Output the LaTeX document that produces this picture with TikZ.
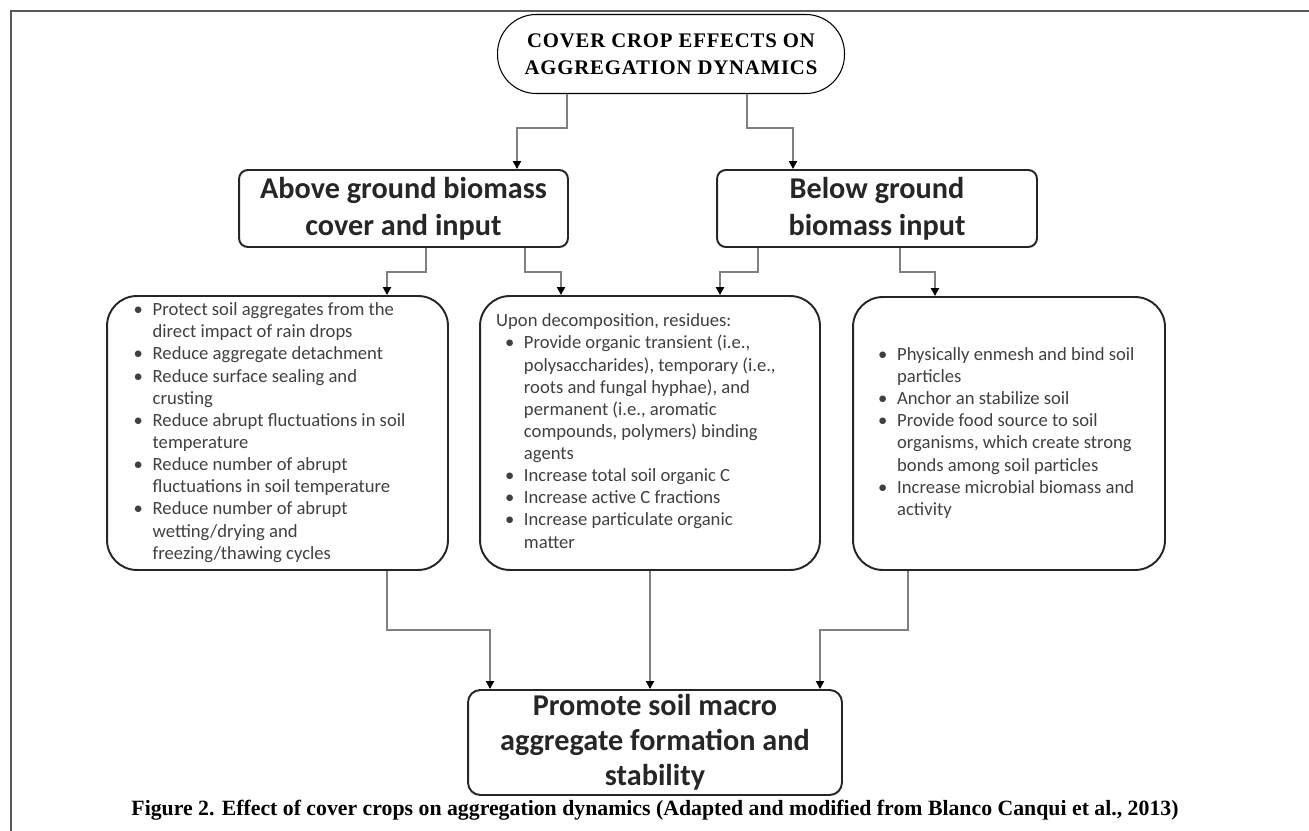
\documentclass[tikz,border=0pt]{standalone}
\usepackage{fontspec}
\setmainfont{Liberation Serif}
\newfontfamily\boxfont{Carlito}
\newfontfamily\titlefont[LetterSpace=4]{Liberation Serif}
\usepackage{array}
\usetikzlibrary{arrows.meta}
\definecolor{linkgray}{HTML}{808080}
\definecolor{textgray}{HTML}{404040}
\tikzset{heading/.style={draw=black!85, line width=1.1pt, rounded corners=5pt,
           align=center, inner sep=0pt, text=black!85,
           font=\boxfont\bfseries\fontsize{17.2}{21}\selectfont},
         bulletbox/.style={draw=black!85, line width=1.1pt, rounded corners=17pt,
           inner sep=0pt, text=textgray,
           font=\boxfont\fontsize{10.6}{12.6}\selectfont},
         link/.style={draw=linkgray, line width=1.3pt,
           -{Triangle[length=4.5pt,width=4.5pt,color=black]}}}
\newcommand{\bl}{\textbullet}

\begin{document}
\begin{tikzpicture}[x=0.02cm,y=-0.02cm]
\useasboundingbox (0,0) rectangle (1309,831);
% frame
\draw[black!65, line width=1.2pt] (11,831) -- (11,11) -- (1309,11);

% title
\node[draw, line width=0.6pt, rounded corners=22pt, minimum width=6.94cm,
      minimum height=1.58cm, align=center,
      font=\titlefont\bfseries\fontsize{11.8}{15.5}\selectfont] (title) at (671,54)
  {COVER CROP EFFECTS ON\\AGGREGATION DYNAMICS};

% biomass boxes
\node[heading, minimum width=6.58cm, minimum height=1.54cm] (above) at (403.5,208.5)
  {Above ground biomass\\cover and input};
\node[heading, minimum width=6.4cm, minimum height=1.54cm] (below) at (877,208.5)
  {Below ground\\biomass input};

% effect boxes
\node[bulletbox, minimum width=6.82cm, minimum height=5.48cm] (protect) at (277.5,433)
  {\begin{tabular}{@{}p{10.8pt}@{}l@{}}
   \bl & Protect soil aggregates from the\\
       & direct impact of rain drops\\
   \bl & Reduce aggregate detachment\\
   \bl & Reduce surface sealing and\\
       & crusting\\
   \bl & Reduce abrupt fluctuations in soil\\
       & temperature\\
   \bl & Reduce number of abrupt\\
       & fluctuations in soil temperature\\
   \bl & Reduce number of abrupt\\
       & wetting/drying and\\
       & freezing/thawing cycles
   \end{tabular}\hspace*{9pt}};
\node[bulletbox, minimum width=6.8cm, minimum height=5.48cm] (decomp) at (650,433)
  {\begin{tabular}{@{}p{10.8pt}@{}l@{}}
   \multicolumn{2}{@{\hspace{-5pt}}l@{}}{Upon decomposition, residues:}\\
   \bl & Provide organic transient (i.e.,\\
       & polysaccharides), temporary (i.e.,\\
       & roots and fungal hyphae), and\\
       & permanent (i.e., aromatic\\
       & compounds, polymers) binding\\
       & agents\\
   \bl & Increase total soil organic C\\
   \bl & Increase active C fractions\\
   \bl & Increase particulate organic\\
       & matter
   \end{tabular}\hspace*{11pt}};
\node[bulletbox, minimum width=6.24cm, minimum height=5.46cm] (roots) at (1009,433.5)
  {\begin{tabular}{@{}p{10.8pt}@{}l@{}}
   \bl & Physically enmesh and bind soil\\
       & particles\\
   \bl & Anchor an stabilize soil\\
   \bl & Provide food source to soil\\
       & organisms, which create strong\\
       & bonds among soil particles\\
   \bl & Increase microbial biomass and\\
       & activity
   \end{tabular}\hspace*{3pt}};

% result
\node[heading, rounded corners=7pt, minimum width=7.48cm, minimum height=2.1cm,
      font=\boxfont\bfseries\fontsize{17.2}{20}\selectfont]
  (promote) at (655,742.5) {Promote soil macro\\aggregate formation and\\stability};

\node[font=\bfseries\fontsize{12.4}{15}\selectfont, inner sep=0pt, anchor=base]
  (caption) at (655,815) {Figure 2. Effect of cover crops on aggregation dynamics
  (Adapted and modified from Blanco Canqui et al., 2013)};

% connectors
\draw[link] (title.south -| 567,0) -- (567,128) -| (above.north -| 517,0);
\draw[link] (title.south -| 747,0) -- (747,128) -| (below.north -| 793,0);
\draw[link] (above.south -| 426,0) -- (426,272) -| (protect.north -| 387,0);
\draw[link] (above.south -| 525,0) -- (525,272) -| (decomp.north -| 561,0);
\draw[link] (below.south -| 758,0) -- (758,272) -| (decomp.north -| 720,0);
\draw[link] (below.south -| 900,0) -- (900,272) -| (roots.north -| 935,0);
\draw[link] (protect.south -| 387,0) -- (387,630) -| (promote.north -| 490,0);
\draw[link] (decomp.south) -- (decomp.south |- promote.north);
\draw[link] (roots.south -| 908,0) -- (908,630) -| (promote.north -| 820,0);
\end{tikzpicture}
\end{document}
